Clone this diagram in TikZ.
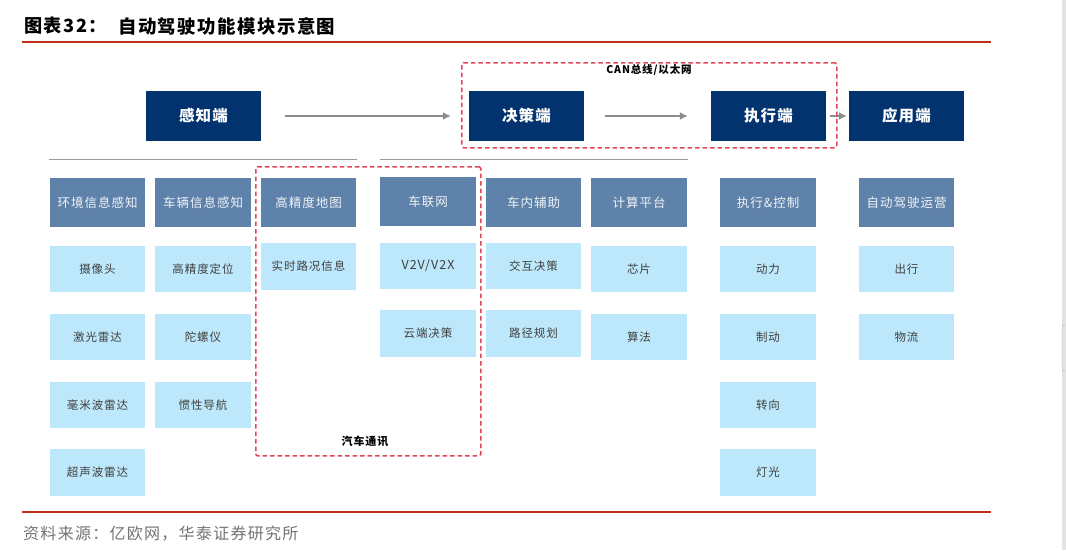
\documentclass[tikz,border=0pt]{standalone}
\usepackage{fontspec}
\usetikzlibrary{arrows.meta}
\setmainfont[LetterSpace=8]{Noto Sans CJK SC}
\definecolor{darkblue}{HTML}{02336F}
\definecolor{midblue}{HTML}{5F82AB}
\definecolor{lightblue}{HTML}{BDE8FB}
\definecolor{rulered}{HTML}{BF3118}
\definecolor{dashred}{HTML}{E0475A}
\definecolor{arrowgray}{HTML}{8C8C8C}
\tikzset{
 stage/.style={fill=darkblue, text=white, font=\fontsize{15.5}{18}\selectfont\bfseries, minimum width=115pt, minimum height=50pt, inner sep=0pt},
 head/.style={fill=midblue, text=white!90!midblue, font=\fontsize{12.5}{15}\selectfont, minimum width=95.5pt, minimum height=49pt, inner sep=0pt},
 item/.style={fill=lightblue, text=black!75, font=\fontsize{11.5}{14}\selectfont, minimum width=95.5pt, minimum height=46.5pt, inner sep=0pt},
 group/.style={draw=dashred, line width=1.6pt, dash pattern=on 4.5pt off 3pt, rounded corners=1.5pt, inner sep=0pt, anchor=north west},
 flow/.style={draw=arrowgray, line width=1.4pt, -{Latex[length=8pt,width=8pt]}},
 divider/.style={draw=black!40, line width=1pt},
 redrule/.style={draw=rulered, line width=2pt}
}
\begin{document}
\begin{tikzpicture}[x=1pt,y=1pt]
 \useasboundingbox (0,0) rectangle (1066,-550);
 % page furniture
 \fill[black!11] (1062,0) rectangle (1066,-550);
 \node[fill=black!11, draw=black!30, rounded corners=2pt, minimum width=6pt, minimum height=46pt, inner sep=0pt] (scroll) at (1065,-348) {};
 \node[anchor=west, inner sep=0pt, font=\fontsize{18.2}{20}\selectfont\bfseries] (fig) at (24,-26) {图表32：};
 \node[anchor=west, inner sep=0pt, font=\fontsize{18.4}{20}\selectfont\bfseries] (title) at (118,-26) {自动驾驶功能模块示意图};
 \node[anchor=west, inner sep=0pt, text=black!55, font=\fontsize{16}{20}\selectfont] (source) at (23,-534) {资料来源：亿欧网，华泰证券研究所};
 \coordinate (t1) at (22,-42);  \coordinate (t2) at (991,-42);
 \coordinate (b1) at (22,-512); \coordinate (b2) at (991,-512);
 \draw[redrule] (t1) -- (t2);
 \draw[redrule] (b1) -- (b2);
 % top row
 \node[stage] (sense)  at (203.5,-116) {感知端};
 \node[stage] (decide) at (526.5,-116) {决策端};
 \node[stage] (act)    at (768.5,-116) {执行端};
 \node[stage] (apply)  at (906.5,-116) {应用端};
 \draw[flow, shorten <=24pt, shorten >=18pt] (sense) -- (decide);
 \draw[flow, shorten <=21pt, shorten >=23pt] (decide) -- (act);
 \draw[flow, shorten <=4pt, shorten >=2pt] (act) -- (apply);
 \coordinate (d1) at (49,-159);  \coordinate (d2) at (357,-159);
 \coordinate (d3) at (380,-159); \coordinate (d4) at (688,-159);
 \draw[divider] (d1) -- (d2);
 \draw[divider] (d3) -- (d4);
 % sensing columns
 \node[head] (env)  at (97.5,-202.5)  {环境信息感知};
 \node[item] (cam)  at (97.5,-269)    {摄像头};
 \node[item] (lid)  at (97.5,-337)    {激光雷达};
 \node[item] (mmw)  at (97.5,-405)    {毫米波雷达};
 \node[item] (ult)  at (97.5,-472.5)  {超声波雷达};
 \node[head] (veh)  at (203,-202.5)   {车辆信息感知};
 \node[item] (pos)  at (203,-269)     {高精度定位};
 \node[item] (gyr)  at (203,-337)     {陀螺仪};
 \node[item] (ins)  at (203,-405)     {惯性导航};
 \node[head] (map)  at (308.5,-202.5) {高精度地图};
 \node[item] (live) at (308.5,-266.5) {实时路况信息};
 % decision columns
 \node[head] (net)  at (428,-201.5)   {车联网};
 \node[item] (v2x)  at (428,-266)     {\fontsize{12.5}{14}\selectfont V2V/V2X};
 \node[item] (cld)  at (428,-333.5)   {云端决策};
 \node[head] (cab)  at (533.5,-202.5) {车内辅助};
 \node[item] (dlg)  at (533.5,-266)   {交互决策};
 \node[item] (path) at (533.5,-333.5) {路径规划};
 \node[head] (cpu)  at (639,-202.5)   {计算平台};
 \node[item] (chip) at (639,-269)     {芯片};
 \node[item] (algo) at (639,-337)     {算法};
 % actuation and application columns
 \node[head] (ctl)  at (768,-202.5)   {执行\&控制};
 \node[item] (pow)  at (768,-269)     {动力};
 \node[item] (brk)  at (768,-337)     {制动};
 \node[item] (str)  at (768,-405)     {转向};
 \node[item] (lmp)  at (768,-472.5)   {灯光};
 \node[head] (ops)  at (906.5,-202.5) {自动驾驶运营};
 \node[item] (trip) at (906.5,-269)   {出行};
 \node[item] (log)  at (906.5,-337)   {物流};
 % dashed groups
 \node[group, minimum width=375pt, minimum height=85pt] (can) at (461,-62) {};
 \node[group, minimum width=225pt, minimum height=289pt] (car) at (255,-166) {};
 \node[font=\fontsize{10.5}{12}\selectfont\bfseries, inner sep=0pt] (canlabel) at (649,-70) {CAN总线/以太网};
 \node[font=\fontsize{11}{12}\selectfont\bfseries, inner sep=0pt] (carlabel) at (365,-441) {汽车通讯};
\end{tikzpicture}
\end{document}
